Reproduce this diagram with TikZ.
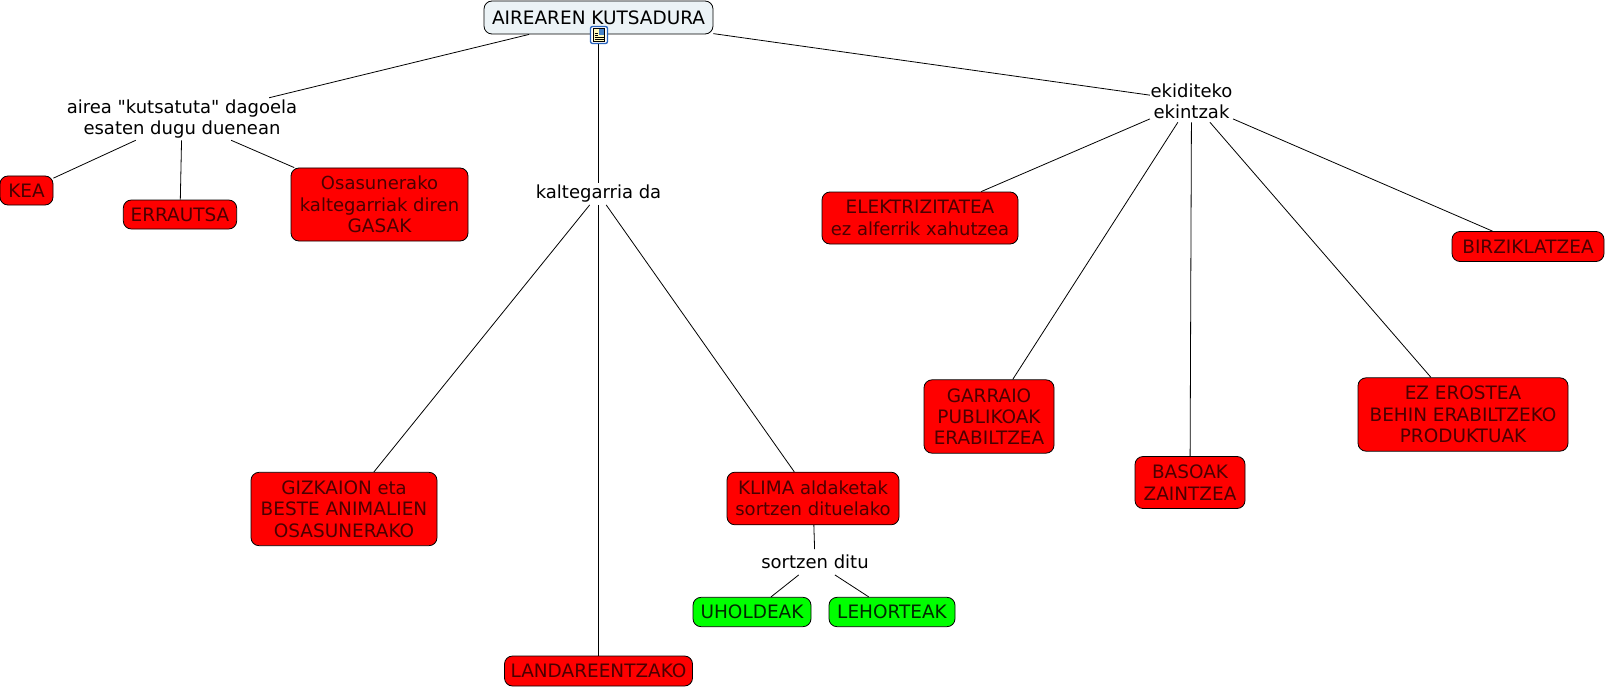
\documentclass[tikz,border=0pt]{standalone}
\usepackage{fontspec}
\setmainfont{DejaVu Sans}[Ligatures=TeXOff]
\definecolor{rootfill}{RGB}{236,243,246}
\definecolor{boxred}{RGB}{255,0,0}
\definecolor{boxgreen}{RGB}{0,255,0}
\definecolor{redtext}{RGB}{75,0,0}
\definecolor{greentext}{RGB}{0,40,0}
\definecolor{iconblue}{RGB}{40,100,190}
\definecolor{iconpage}{RGB}{255,250,190}
\definecolor{iconpic}{RGB}{70,130,200}
\newcommand{\cp}[1]{{\fontsize{13.85}{16}\selectfont #1}}
\tikzset{
  every node/.style={font=\fontsize{13.5}{16}\selectfont, align=center, inner sep=0pt},
  concept/.style={draw=black, line width=0.6pt, rounded corners=6pt},
  redbox/.style={concept, fill=boxred, text=redtext},
  greenbox/.style={concept, fill=boxgreen, text=greentext},
  rootbox/.style={concept, fill=rootfill, text=black},
  linkphrase/.style={text=black},
  link/.style={draw=black, line width=0.6pt}
}
\begin{document}
\begin{tikzpicture}[x=0.75pt,y=-0.75pt]
\useasboundingbox (0,0) rectangle (1605,688);
% link phrases
\node[linkphrase, minimum width=172pt, minimum height=31.5pt] (airea) at (182,119) {airea "kutsatuta" dagoela\\esaten dugu duenean};
\node[linkphrase, minimum width=62pt, minimum height=31.5pt] (ekid) at (1191.5,101) {ekiditeko\\ekintzak};
\node[linkphrase, minimum width=98pt, minimum height=16pt] (kalte) at (598.5,194) {kaltegarria da};
\node[linkphrase, minimum width=80pt, minimum height=19pt] (sortz) at (815,562) {sortzen ditu};
% concepts
\node[rootbox, minimum width=171.75pt, minimum height=24.75pt] (root) at (598.5,17.5) {\cp{AIREAREN KUTSADURA}};
\node[redbox, minimum width=39.75pt, minimum height=21.75pt] (kea) at (26.5,190.5) {\cp{KEA}};
\node[redbox, minimum width=85pt, minimum height=21.75pt] (err) at (180,214.5) {\cp{ERRAUTSA}};
\node[redbox, minimum width=132.75pt, minimum height=54.75pt] (osa) at (379.5,204.5) {Osasunerako\\kaltegarriak diren\\\cp{GASAK}};
\node[redbox, minimum width=147pt, minimum height=39pt] (elek) at (920,218) {\cp{ELEKTRIZITATEA}\\ez alferrik xahutzea};
\node[redbox, minimum width=114pt, minimum height=22.5pt] (birz) at (1528,246.5) {\cp{BIRZIKLATZEA}};
\node[redbox, minimum width=97.5pt, minimum height=55pt] (garr) at (989,416.5) {\cp{GARRAIO}\\\cp{PUBLIKOAK}\\\cp{ERABILTZEA}};
\node[redbox, minimum width=157.5pt, minimum height=55pt] (ezer) at (1463,414.5) {\cp{EZ EROSTEA}\\\cp{BEHIN ERABILTZEKO}\\\cp{PRODUKTUAK}};
\node[redbox, minimum width=82.5pt, minimum height=39pt] (baso) at (1190,482.5) {\cp{BASOAK}\\\cp{ZAINTZEA}};
\node[redbox, minimum width=139.5pt, minimum height=55pt] (gizk) at (344,509) {\cp{GIZKAION} eta\\\cp{BESTE ANIMALIEN}\\\cp{OSASUNERAKO}};
\node[redbox, minimum width=129pt, minimum height=39.5pt] (klim) at (813,498.5) {\cp{KLIMA} aldaketak\\sortzen dituelako};
\node[redbox, minimum width=141pt, minimum height=22.5pt] (land) at (598.5,671) {\cp{LANDAREENTZAKO}};
\node[greenbox, minimum width=88.5pt, minimum height=22pt] (uhol) at (752,612) {\cp{UHOLDEAK}};
\node[greenbox, minimum width=94.5pt, minimum height=22pt] (leho) at (892,612) {\cp{LEHORTEAK}};
% connectors
\draw[link] (root) -- (airea);
\draw[link] (root) -- (kalte);
\draw[link] (root) -- (ekid);
\draw[link] (airea) -- (kea);
\draw[link] (airea) -- (err);
\draw[link] (airea) -- (osa);
\draw[link] (kalte) -- (gizk);
\draw[link] (kalte) -- (land);
\draw[link] (kalte) -- (klim);
\draw[link] (klim) -- (sortz);
\draw[link] (sortz) -- (uhol);
\draw[link] (sortz) -- (leho);
\draw[link] (ekid) -- (elek);
\draw[link] (ekid) -- (garr);
\draw[link] (ekid) -- (baso);
\draw[link] (ekid) -- (ezer);
\draw[link] (ekid) -- (birz);
% resource icon
\filldraw[draw=iconblue, fill=white, line width=1pt, rounded corners=1.5pt] (590.5,26.5) rectangle (607.5,43.5);
\filldraw[fill=iconpage, draw=black, line width=0.4pt] (593.5,28.5) rectangle (604.5,41.5);
\fill[iconpic] (598.5,29.5) rectangle (603.5,35);
\foreach \yy in {33,35}{\draw[black, line width=0.35pt] (594.5,\yy) -- (598,\yy);}
\foreach \yy in {37,39}{\draw[black, line width=0.35pt] (594.5,\yy) -- (603.5,\yy);}
\end{tikzpicture}
\end{document}
